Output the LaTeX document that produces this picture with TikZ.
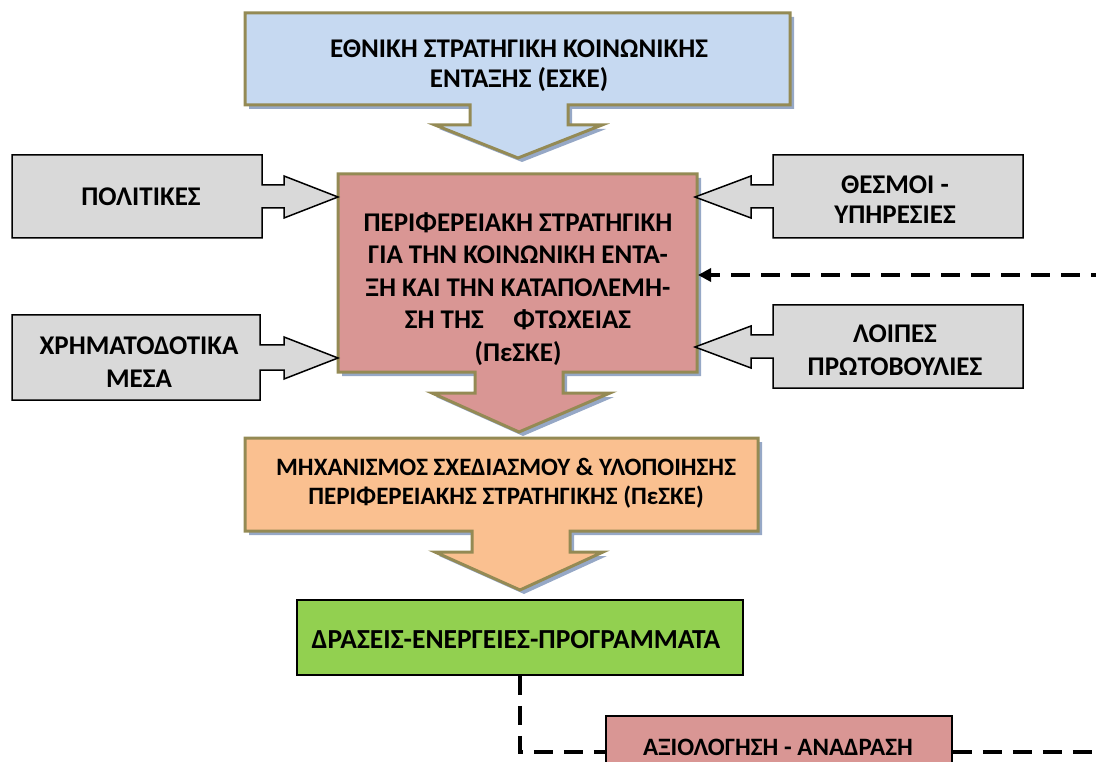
\documentclass[tikz,border=0pt]{standalone}
\usepackage{fontspec}
\setmainfont{Carlito}
\usetikzlibrary{arrows.meta}
\definecolor{bluec}{RGB}{198,217,241}
\definecolor{olivec}{RGB}{148,138,84}
\definecolor{pinkc}{RGB}{217,150,148}
\definecolor{orangec}{RGB}{250,192,144}
\definecolor{greenc}{RGB}{146,208,80}
\definecolor{grayc}{RGB}{217,217,217}
\definecolor{shadowc}{RGB}{150,168,198}
\begin{document}
\begin{tikzpicture}[x=1pt,y=-1pt,
  bigshape/.style={draw=olivec, line width=3pt, line join=miter},
  shadowshape/.style={fill=shadowc},
  grayshape/.style={draw=black, line width=1.5pt, fill=grayc, line join=miter},
  lbl/.style={font=\fontsize{27}{30}\selectfont\bfseries, align=center, inner sep=0pt},
  plainbox/.style={draw=black, line width=1.5pt, inner sep=0pt},
  dashline/.style={draw=black, line width=3.5pt, dash pattern=on 19pt off 11pt}
]
\useasboundingbox (0,0) rectangle (1096,762);
\clip (0,0) rectangle (1096,762);

% blue callout
\path[shadowshape, shift={(4,4)}] (245,13) -- (790,13) -- (790,105) -- (568,105) -- (568,125) -- (602,125) -- (518,158) -- (435,125) -- (470,125) -- (470,105) -- (245,105) -- cycle;
\path[bigshape, fill=bluec] (245,13) -- (790,13) -- (790,105) -- (568,105) -- (568,125) -- (602,125) -- (518,158) -- (435,125) -- (470,125) -- (470,105) -- (245,105) -- cycle;
\node[lbl] (eske) at (519,66) {ΕΘΝΙΚΗ ΣΤΡΑΤΗΓΙΚΗ ΚΟΙΝΩΝΙΚΗΣ\\ΕΝΤΑΞΗΣ (ΕΣΚΕ)};

% pink callout
\path[shadowshape, shift={(4,4)}] (338,174) -- (697,174) -- (697,372) -- (563,372) -- (563,393) -- (610,393) -- (519,432) -- (432,393) -- (475,393) -- (475,372) -- (338,372) -- cycle;
\path[bigshape, fill=pinkc] (338,174) -- (697,174) -- (697,372) -- (563,372) -- (563,393) -- (610,393) -- (519,432) -- (432,393) -- (475,393) -- (475,372) -- (338,372) -- cycle;
\node[lbl, font=\fontsize{27}{32.5}\selectfont\bfseries] (peske) at (518,289) {ΠΕΡΙΦΕΡΕΙΑΚΗ ΣΤΡΑΤΗΓΙΚΗ\\ΓΙΑ ΤΗΝ ΚΟΙΝΩΝΙΚΗ ΕΝΤΑ-\\ΞΗ ΚΑΙ ΤΗΝ ΚΑΤΑΠΟΛΕΜΗ-\\ΣΗ ΤΗΣ\hspace{1.1em}ΦΤΩΧΕΙΑΣ\\(ΠεΣΚΕ)};
\coordinate (fbin) at (698,275);

% orange callout
\path[shadowshape, shift={(4,4)}] (245,438) -- (758,438) -- (758,531) -- (570,531) -- (570,552) -- (603,552) -- (520,590) -- (435,552) -- (472,552) -- (472,531) -- (245,531) -- cycle;
\path[bigshape, fill=orangec] (245,438) -- (758,438) -- (758,531) -- (570,531) -- (570,552) -- (603,552) -- (520,590) -- (435,552) -- (472,552) -- (472,531) -- (245,531) -- cycle;
\node[lbl, font=\fontsize{25}{29}\selectfont\bfseries] (mech) at (506,483) {ΜΗΧΑΝΙΣΜΟΣ ΣΧΕΔΙΑΣΜΟΥ \& ΥΛΟΠΟΙΗΣΗΣ\\ΠΕΡΙΦΕΡΕΙΑΚΗΣ ΣΤΡΑΤΗΓΙΚΗΣ (ΠεΣΚΕ)};

% gray side callouts
\path[grayshape] (12,155) -- (262,155) -- (262,185) -- (284,185) -- (284,176) -- (338,197) -- (284,218) -- (284,208) -- (262,208) -- (262,238) -- (12,238) -- cycle;
\node[lbl] (pol) at (141,197) {ΠΟΛΙΤΙΚΕΣ};

\path[grayshape] (12,315) -- (260,315) -- (260,345) -- (284,345) -- (284,337) -- (338,358) -- (284,379) -- (284,370) -- (260,370) -- (260,400) -- (12,400) -- cycle;
\node[lbl, font=\fontsize{27}{33}\selectfont\bfseries] (fin) at (139,362) {ΧΡΗΜΑΤΟΔΟΤΙΚΑ\\ΜΕΣΑ};

\path[grayshape] (1023,155) -- (773,155) -- (773,185) -- (751,185) -- (751,176) -- (695,197) -- (751,218) -- (751,208) -- (773,208) -- (773,238) -- (1023,238) -- cycle;
\node[lbl] (inst) at (895,200) {ΘΕΣΜΟΙ -\\ΥΠΗΡΕΣΙΕΣ};

\path[grayshape] (1023,305) -- (773,305) -- (773,335) -- (751,335) -- (751,326) -- (695,347) -- (751,368) -- (751,358) -- (773,358) -- (773,388) -- (1023,388) -- cycle;
\node[lbl, font=\fontsize{27}{33}\selectfont\bfseries] (other) at (895,350) {ΛΟΙΠΕΣ\\ΠΡΩΤΟΒΟΥΛΙΕΣ};

% green box
\node[plainbox, fill=greenc, minimum width=446pt, minimum height=75pt] (actbox) at (520,637.5) {};
\node[lbl, font=\fontsize{27.5}{30}\selectfont\bfseries] (act) at (516,640) {ΔΡΑΣΕΙΣ-ΕΝΕΡΓΕΙΕΣ-ΠΡΟΓΡΑΜΜΑΤΑ};

% evaluation box
\node[plainbox, fill=pinkc, minimum width=346pt, minimum height=72pt] (evalbox) at (779,752) {};
\node[lbl, font=\fontsize{25}{30}\selectfont\bfseries] (eval) at (778,747) {ΑΞΙΟΛΟΓΗΣΗ - ΑΝΑΔΡΑΣΗ};

% dashed connectors
\draw[dashline] (actbox.south) -- (actbox.south |- evalbox.west) -- (evalbox.west);
\draw[dashline, -{Triangle[length=13pt,width=13pt]}] (evalbox.east) -- ++(170,0) |- (fbin);
\end{tikzpicture}
\end{document}
